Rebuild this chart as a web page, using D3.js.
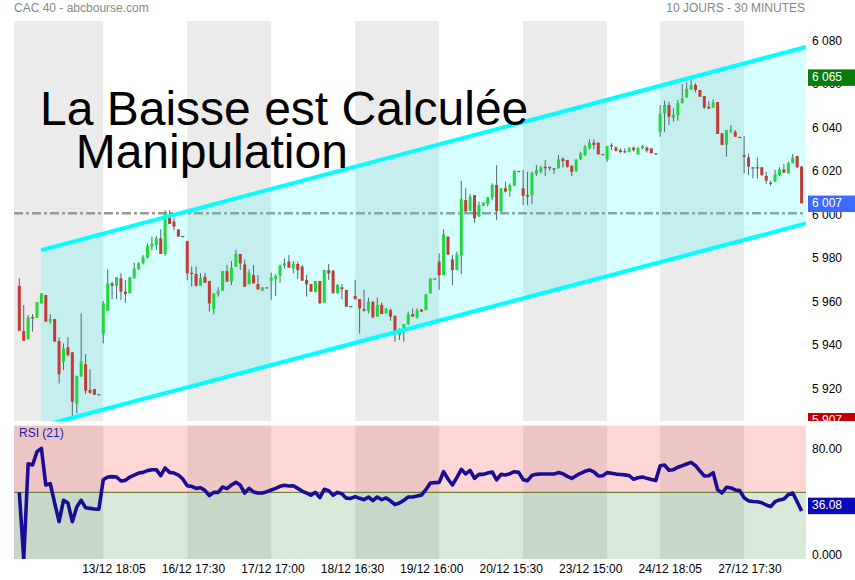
<!DOCTYPE html>
<html><head><meta charset="utf-8">
<script src="https://cdn.jsdelivr.net/npm/d3@7"></script>
<style>body{margin:0;background:#fff}svg{display:block;font-family:"Liberation Sans",Arial,sans-serif}</style>
</head><body><svg id="c" width="855" height="580"></svg>
<script>
const title = "CAC 40 - abcbourse.com";
const period = "10 JOURS - 30 MINUTES";
const overlay1 = "La Baisse est Calculée";
const overlay2 = "Manipulation";

const opens = [5967.6,5946.9,5943.1,5953.3,5953.0,5959.6,5963.4,5951.2,5952.4,5942.3,
5932.8,5939.4,5937.1,5913.6,5925.9,5931.6,5919.8,5920.2,5917.9,5945.4,
5956.2,5968.8,5967.7,5971.1,5965.0,5964.2,5971.1,5975.4,5978.2,5980.6,
5985.7,5986.4,5989.5,5982.3,6000.2,5997.2,5993.6,5990.6,5988.3,5973.7,
5973.1,5967.7,5971.8,5969.9,5957.0,5963.9,5965.4,5974.5,5969.6,5976.5,
5982.3,5977.5,5968.4,5972.6,5968.5,5965.4,5967.0,5970.0,5970.8,5972.3,
5976.9,5978.8,5975.7,5977.7,5976.5,5970.4,5968.5,5965.0,5969.9,5959.9,
5974.9,5974.6,5964.5,5967.0,5965.8,5958.4,5963.0,5961.6,5957.0,5956.2,
5960.4,5953.5,5958.9,5955.0,5956.5,5953.8,5945.1,5947.4,5950.0,5954.7,
5953.0,5956.8,5956.5,5964.2,5971.1,5978.8,5972.6,5990.3,5979.8,5974.9,
5981.5,6007.1,6002.2,6009.4,5999.5,6004.5,6005.3,6008.2,6014.0,6001.8,
6012.5,6011.4,6013.7,6020.5,6012.5,6009.4,6009.4,6019.1,6020.1,6022.4,
6022.4,6021.7,6021.7,6026.1,6025.5,6022.7,6020.5,6025.8,6027.8,6030.9,
6033.5,6033.5,6028.3,6025.8,6032.4,6031.3,6030.1,6029.6,6029.3,6031.2,
6028.1,6030.9,6031.3,6030.9,6028.6,6038.5,6047.0,6050.8,6045.0,6046.2,
6051.6,6054.2,6058.0,6060.0,6057.7,6054.9,6050.0,6049.6,6052.2,6037.8,
6032.4,6039.2,6038.5,6036.2,6027.8,6026.7,6022.2,6022.2,6022.2,6018.2,
6015.1,6015.5,6018.6,6021.2,6019.4,6024.0,6027.4,6022.5];

const highs = [5971.1,5958.8,5954.2,5954.7,5960.2,5964.2,5963.4,5954.7,5952.4,5944.0,
5941.2,5944.0,5937.1,5926.3,5955.0,5936.3,5929.3,5920.2,5917.9,5960.7,
5975.2,5969.6,5971.6,5973.4,5970.3,5971.6,5978.3,5978.5,5981.8,5987.2,
5990.3,5990.6,5993.6,6002.5,6002.5,5998.7,5993.6,5990.6,5988.3,5976.5,
5976.5,5973.4,5973.6,5969.9,5964.2,5967.0,5974.5,5977.2,5979.1,5984.4,
5982.3,5979.8,5975.3,5977.2,5972.6,5967.0,5967.0,5973.7,5973.0,5977.5,
5980.3,5981.8,5979.1,5978.8,5977.2,5972.6,5968.5,5969.9,5969.9,5974.9,
5977.7,5974.9,5968.5,5968.5,5965.8,5958.4,5970.4,5961.6,5965.8,5962.2,
5960.4,5962.2,5959.9,5957.3,5957.3,5954.2,5948.1,5950.1,5955.8,5957.3,
5957.3,5956.8,5963.8,5971.1,5971.1,5982.6,5993.6,5990.3,5981.8,5983.4,
6016.0,6012.5,6009.9,6009.4,6006.4,6006.0,6008.6,6014.8,6023.2,6012.5,
6015.5,6014.8,6021.0,6020.5,6020.9,6020.1,6020.1,6023.2,6022.8,6025.5,
6022.4,6021.7,6027.8,6026.7,6025.5,6023.2,6025.8,6029.3,6032.4,6035.0,
6035.0,6033.5,6028.3,6031.9,6033.2,6031.6,6030.9,6030.9,6031.6,6031.6,
6031.6,6032.4,6031.6,6030.9,6028.6,6050.8,6052.8,6052.3,6049.3,6053.1,
6060.5,6061.1,6062.3,6060.8,6057.7,6054.9,6052.6,6053.4,6052.2,6037.8,
6039.3,6041.6,6039.3,6036.2,6036.5,6028.6,6022.2,6026.7,6022.2,6020.1,
6016.0,6020.9,6022.2,6023.7,6024.7,6028.3,6027.4,6022.8];

const lows = [5947.0,5942.4,5943.1,5946.6,5953.0,5959.6,5951.2,5950.1,5942.0,5922.8,
5929.0,5935.1,5907.5,5909.0,5925.9,5917.9,5917.9,5917.6,5917.9,5941.2,
5956.2,5961.6,5961.6,5961.1,5959.9,5964.2,5971.1,5975.0,5977.5,5980.3,
5984.1,5984.1,5982.3,5981.5,5996.1,5993.3,5990.3,5990.6,5970.3,5967.3,
5967.3,5967.7,5969.1,5955.8,5954.6,5962.7,5965.4,5969.6,5968.0,5976.5,
5975.0,5967.3,5968.4,5968.8,5966.0,5965.4,5967.0,5961.2,5963.0,5969.1,
5975.7,5976.0,5973.4,5970.8,5970.0,5962.7,5965.0,5964.6,5959.6,5959.9,
5970.4,5964.2,5963.9,5961.5,5958.1,5958.4,5961.5,5945.8,5955.8,5955.0,
5952.7,5953.5,5954.7,5955.0,5951.6,5942.0,5942.8,5942.0,5949.7,5953.5,
5952.7,5955.8,5956.5,5964.2,5971.1,5965.8,5972.6,5982.0,5968.0,5974.9,
5973.1,6001.8,6002.2,5996.7,5999.5,6004.3,6004.1,6007.1,5997.9,6001.8,
6010.6,6008.7,6013.7,6020.5,6004.8,6004.8,6005.3,6018.2,6019.4,6018.2,
6020.6,6019.1,6021.7,6022.1,6022.0,6018.2,6020.1,6025.5,6027.3,6030.4,
6030.4,6028.1,6028.3,6024.7,6030.1,6029.4,6028.6,6028.6,6029.0,6029.4,
6028.1,6030.4,6028.9,6028.6,6028.6,6036.2,6038.5,6041.6,6043.1,6043.6,
6051.6,6054.2,6057.7,6056.6,6054.6,6049.1,6049.1,6049.6,6037.5,6032.4,
6027.0,6037.8,6036.2,6036.2,6019.4,6018.6,6017.1,6017.1,6018.2,6014.5,
6013.6,6015.5,6018.2,6019.7,6019.4,6024.0,6021.7,6005.6];

const closes = [5947.0,5942.4,5953.2,5952.6,5960.2,5964.2,5951.2,5952.4,5942.0,5927.0,
5938.9,5935.9,5914.4,5926.3,5932.8,5919.5,5918.5,5917.6,5917.9,5959.6,
5968.8,5967.7,5971.6,5965.0,5963.9,5971.6,5975.7,5978.0,5980.8,5986.0,
5986.9,5989.5,5982.3,6001.4,5996.1,5994.9,5990.3,5990.6,5973.4,5973.1,
5967.7,5971.3,5969.1,5959.6,5964.2,5965.4,5974.5,5969.6,5976.0,5982.3,
5978.0,5967.3,5973.7,5968.8,5966.0,5967.0,5967.0,5971.4,5972.3,5976.8,
5978.0,5976.0,5977.7,5974.9,5970.0,5968.4,5965.0,5969.9,5959.6,5974.9,
5973.4,5964.2,5968.0,5966.1,5958.1,5958.4,5961.5,5957.3,5956.2,5960.4,
5953.2,5958.9,5954.7,5957.3,5953.5,5946.6,5947.4,5950.1,5954.7,5953.5,
5956.5,5955.8,5963.8,5971.1,5971.1,5972.6,5991.4,5982.0,5974.9,5982.1,
6007.6,6001.8,6008.7,5998.7,6004.8,6006.0,6008.3,6014.0,6002.1,6012.5,
6011.0,6014.0,6020.5,6020.5,6009.1,6008.7,6019.7,6020.9,6022.0,6021.7,
6021.7,6021.7,6025.8,6025.0,6022.4,6020.1,6025.8,6028.6,6031.6,6033.5,
6032.4,6028.1,6028.3,6031.9,6032.2,6029.8,6029.2,6029.6,6030.9,6030.1,
6030.9,6031.9,6029.8,6028.6,6028.6,6046.7,6050.8,6045.4,6046.2,6051.6,
6053.9,6058.2,6060.0,6057.7,6054.6,6049.6,6049.1,6051.9,6037.5,6032.4,
6039.3,6039.3,6036.2,6036.2,6027.0,6022.5,6022.2,6021.7,6018.6,6016.0,
6015.1,6018.9,6021.2,6019.7,6024.0,6026.7,6022.2,6005.6];

const rsi = [50,0,71.5,70.5,80.5,83,55.5,56.5,42,28,
44,42,28,39,44,38.5,38,37.5,37.3,59.5,
61.5,61.8,61.5,58.5,59,61.5,63,64.5,65,66.3,
67,67,62.5,68.3,65,64.5,63,60,55,54.5,
53,53.5,51.5,47.5,50,50,54,52.8,55.5,57.5,
55.3,49.5,53,50.3,49.5,49.5,50.5,51.8,53,54.5,
55.3,54.8,55,53,51,49.5,47.8,50,46,52.3,
51.3,47.8,50,49,45.6,45.5,46.8,45.5,44.5,46.5,
43.8,46.5,44.5,45.8,43.5,40.8,42,44,46.5,46.5,
47.2,48,52,57,57.3,57.5,65.5,60,55.5,61,
67.3,63.8,66.5,60.5,63.5,63.5,64.5,65.3,59.3,63.5,
63,64,65.5,65,59.5,58.8,62.8,63.5,63.8,63.8,
63.8,63.8,64.8,64,62,60.5,62.5,64.3,65.8,66.8,
65.3,62.3,62.5,64.8,64.3,63.7,63.4,63.1,62.6,59.8,
60.9,61.6,60.5,59.6,58.8,70,70.5,66.6,67,68.8,
70,71.3,72.5,70,66,62.3,62.5,64.8,52,49.5,
53.8,53.3,51.8,51.3,46,43.6,43.1,42.9,42.2,40.5,
39.3,43,44.3,45,48.3,49.5,43,36.08];

// first bar index of each trading day
const dayStarts = [0,19,38,57,76,95,114,133,145,164];
// x-axis labels at bar positions
const xTickPos = [21.4,39.4,57.4,75.4,93.3,111.3,129.3,147.3,165.3];
const xTickLabels = ["13/12 18:05","16/12 17:30","17/12 17:00","18/12 16:30","19/12 16:00","20/12 15:30","23/12 15:00","24/12 18:05","27/12 17:30"];
const yTicks = [5920,5940,5960,5980,6000,6020,6040,6060,6080];
const rsiTicks = [80,0];
const refLevel = 6001;
// channel: bar index start/end, upper and lower values
const chanBars = [4.9,178];
const chanUpper = [5984.1,6077.5];
const chanLower = [5903.2,5996.3];
const markerValues = [6065,6007,5907];
const markerColors = ["#0a7c0a","#3e6bff","#c00000"];
const rsiLast = 36.08;
const rsiPeriod = 21;

const svg = d3.select('#c');
const X0=14, X1=806, MT=21, MB=421, RT=425.7, RB=559;
const x = d3.scaleLinear().domain([-1.2,178]).range([X0,X1]);
const y = d3.scaleLinear().domain([5905.52,6089.43]).range([MB,MT]);
const yr = d3.scaleLinear().domain([0,100]).range([RB,RT]);
const fmt = d3.formatLocale({decimal:".",thousands:" ",grouping:[3],currency:["",""]}).format(",d");

const defs = svg.append('defs');
defs.append('clipPath').attr('id','clipMain').append('rect').attr('x',X0).attr('y',MT).attr('width',X1-X0).attr('height',MB-MT);
defs.append('clipPath').attr('id','clipRsi').append('rect').attr('x',X0).attr('y',RT).attr('width',X1-X0).attr('height',RB-RT);
defs.append('clipPath').attr('id','clipAxMain').append('rect').attr('x',X1).attr('y',0).attr('width',60).attr('height',MB);
defs.append('clipPath').attr('id','clipAxRsi').append('rect').attr('x',X1).attr('y',RT).attr('width',60).attr('height',RB-RT);

// day bands
const bands = dayStarts.map((s,k)=>({k, x0: k===0?X0:x(s), x1: k===dayStarts.length-1?X1:x(dayStarts[k+1])}));
[[MT,MB],[RT,RB]].forEach(([t,b])=>{
  svg.append('g').selectAll('rect').data(bands.filter(d=>d.k%2===0)).join('rect')
    .attr('x',d=>d.x0).attr('width',d=>d.x1-d.x0).attr('y',t).attr('height',b-t).attr('fill','#ebebeb');
});

// RSI zones
svg.append('rect').attr('x',X0).attr('width',X1-X0).attr('y',RT).attr('height',yr(50)-RT).attr('fill','rgb(255,0,0)').attr('opacity',0.16);
svg.append('rect').attr('x',X0).attr('width',X1-X0).attr('y',yr(50)).attr('height',RB-yr(50)).attr('fill','rgb(0,110,0)').attr('opacity',0.15);
svg.append('line').attr('x1',X0).attr('x2',X1).attr('y1',yr(50)).attr('y2',yr(50)).attr('stroke','#5b6b1f').attr('stroke-width',1);

// reference dash-dot line
svg.append('line').attr('x1',X0).attr('x2',X1).attr('y1',y(refLevel)).attr('y2',y(refLevel))
  .attr('stroke','#999').attr('stroke-width',2.5).attr('stroke-dasharray','9,3,3,3');

// channel fill
const gMain = svg.append('g').attr('clip-path','url(#clipMain)');
const poly = [[x(chanBars[0]),y(chanUpper[0])],[x(chanBars[1]),y(chanUpper[1])],[x(chanBars[1]),y(chanLower[1])],[x(chanBars[0]),y(chanLower[0])]];
gMain.append('path').attr('d','M'+poly.map(p=>p.join(',')).join('L')+'Z').attr('fill','#00ffff').attr('opacity',0.16);

// candles
const idx = d3.range(opens.length);
gMain.append('g').selectAll('line').data(idx).join('line')
  .attr('x1',i=>x(i)).attr('x2',i=>x(i))
  .attr('y1',i=>y(Math.max(highs[i],opens[i],closes[i])))
  .attr('y2',i=>y(Math.min(lows[i],opens[i],closes[i])))
  .attr('stroke','#4f6b6b').attr('stroke-width',1);
gMain.append('g').selectAll('rect').data(idx).join('rect')
  .attr('x',i=>x(i)-1.5).attr('width',3)
  .attr('y',i=>y(Math.max(opens[i],closes[i])))
  .attr('height',i=>Math.max(1.3,Math.abs(y(opens[i])-y(closes[i]))))
  .attr('fill',i=>closes[i]>opens[i]?'#1fd83c':(closes[i]<opens[i]?'#c23b35':'#4f6b6b'));

// channel lines
[chanUpper,chanLower].forEach(c=>{
  gMain.append('line').attr('x1',x(chanBars[0])).attr('y1',y(c[0])).attr('x2',x(chanBars[1])).attr('y2',y(c[1]))
    .attr('stroke','#00ffff').attr('stroke-width',4);
});

// RSI line
svg.append('g').attr('clip-path','url(#clipRsi)').append('path').datum(rsi)
  .attr('d',d3.line().x((d,i)=>x(i)).y(d=>yr(d)))
  .attr('fill','none').attr('stroke','#1b0c98').attr('stroke-width',3.6).attr('stroke-linejoin','round');
svg.append('text').attr('x',19).attr('y',434).attr('dominant-baseline','middle').attr('font-size',12).attr('fill','#1a1aa8').text(`RSI (${rsiPeriod})`);

// right axes
const axM = svg.append('g').attr('clip-path','url(#clipAxMain)');
axM.selectAll('text').data(yTicks).join('text').attr('x',812).attr('y',d=>y(d)).attr('dominant-baseline','middle')
  .attr('font-size',12).attr('fill','#000').text(d=>fmt(d));
markerValues.forEach((v,k)=>{
  const cy = y(v)+3.5;
  axM.append('rect').attr('x',808).attr('y',cy-8.25).attr('width',47).attr('height',16.5).attr('fill',markerColors[k]);
  axM.append('text').attr('x',812).attr('y',cy).attr('dominant-baseline','middle').attr('font-size',12).attr('fill','#fff').text(fmt(v));
});
const axR = svg.append('g').attr('clip-path','url(#clipAxRsi)');
axR.selectAll('text').data(rsiTicks).join('text').attr('x',812).attr('y',d=>yr(d)-3).attr('dominant-baseline','middle')
  .attr('font-size',12).attr('fill','#000').text(d=>d===0?'0.000':d3.format('.2f')(d));
axR.append('rect').attr('x',808).attr('y',yr(rsiLast)-5-8.25).attr('width',47).attr('height',16.5).attr('fill','#0b0bb3');
axR.append('text').attr('x',812).attr('y',yr(rsiLast)-5).attr('dominant-baseline','middle').attr('font-size',12).attr('fill','#fff').text(d3.format('.2f')(rsiLast));

// x labels
svg.append('g').selectAll('text').data(xTickPos).join('text').attr('x',d=>x(d)).attr('y',569.5)
  .attr('text-anchor','middle').attr('dominant-baseline','middle').attr('font-size',12).attr('fill','#000')
  .text((d,i)=>xTickLabels[i]);

// headers
svg.append('text').attr('x',14).attr('y',8.5).attr('dominant-baseline','middle').attr('font-size',12).attr('fill','#858c85').text(title);
svg.append('text').attr('x',805).attr('y',8.5).attr('text-anchor','end').attr('dominant-baseline','middle').attr('font-size',12).attr('fill','#858585').text(period);

// overlay text
svg.append('text').attr('x',40).attr('y',125).attr('font-size',48).attr('fill','#000').text(overlay1);
svg.append('text').attr('x',75.7).attr('y',168.3).attr('font-size',48).attr('fill','#000').text(overlay2);
</script></body></html>
